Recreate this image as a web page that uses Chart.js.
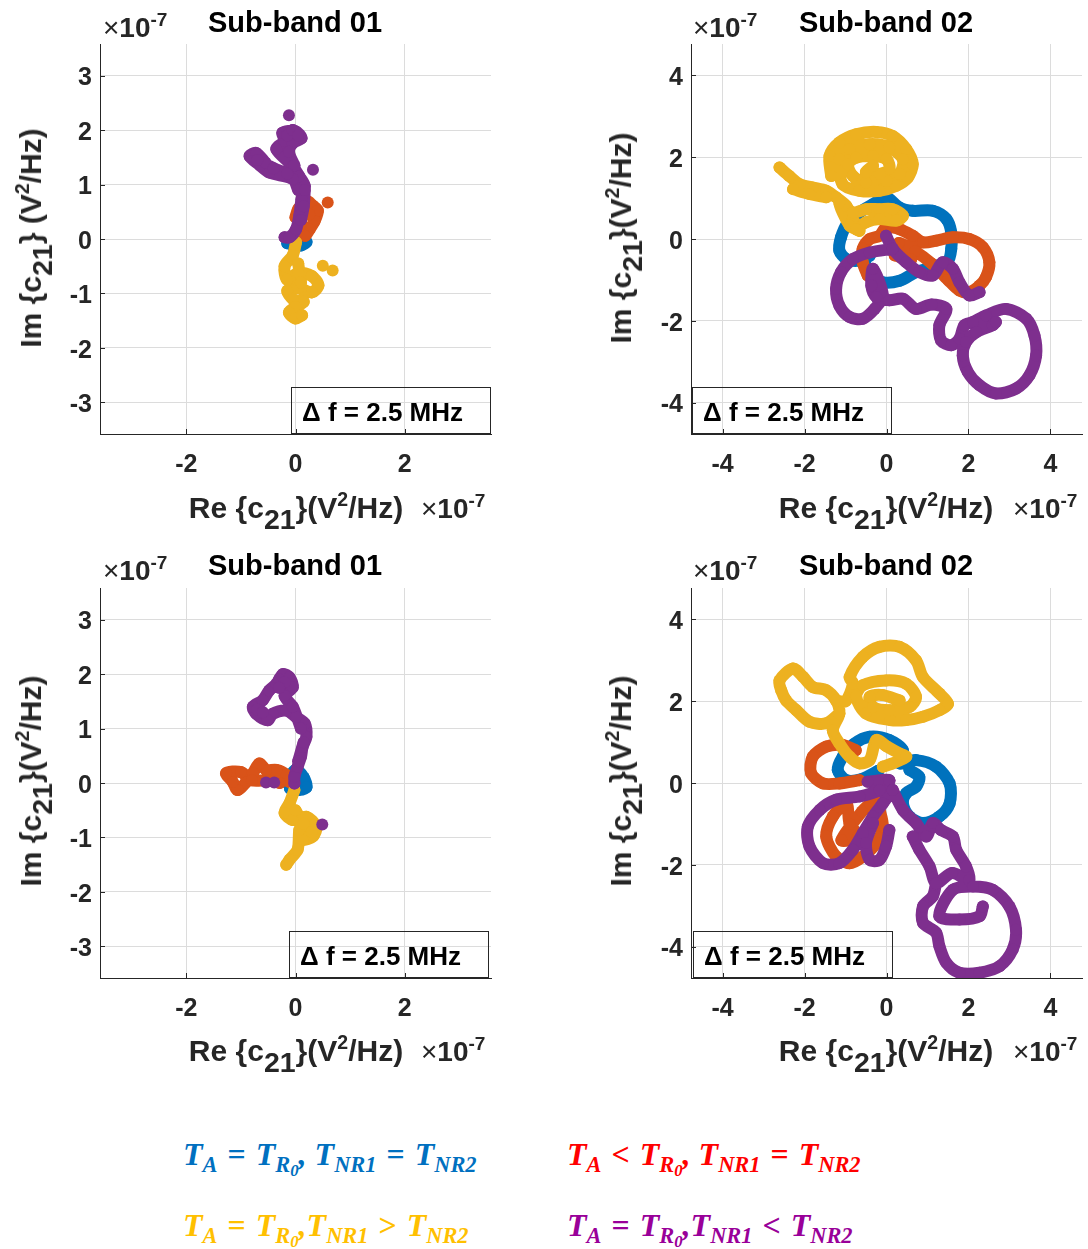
<!DOCTYPE html>
<html>
<head>
<meta charset="utf-8">
<script src="https://cdn.jsdelivr.net/npm/chart.js@4.4.1/dist/chart.umd.min.js"></script>
<style>
  body { margin: 0; background: #fff; }
  #page { position: relative; width: 1088px; height: 1249px; background: #fff; overflow: hidden;
          font-family: "Liberation Sans", Arial, sans-serif; color: #262626; }
  .panel { position: absolute; width: 544px; height: 544px; }
  .txt { position: absolute; white-space: nowrap; font-weight: bold; line-height: 1; }
  .txt sub, .txt sup { line-height: 0; }
  .title { font-size: 29px; color: #000; transform: translateX(-50%); }
  .expo { font-size: 28px; }
  .expo .x { font-weight: normal; }
  .expo sup { font-size: 0.68em; vertical-align: 0.6em; }
  .xlab { font-size: 30px; transform: translateX(-50%); }
  .ylab { font-size: 30px; transform: translate(-50%, -50%) rotate(-90deg); }
  .xlab sub, .ylab sub { font-size: 0.95em; vertical-align: -0.38em; }
  .xlab sup, .ylab sup { font-size: 0.65em; vertical-align: 0.62em; }
  .dbox { position: absolute; width: 200px; height: 47px; box-sizing: border-box; border: 1px solid #262626; }
  .dbox span { position: absolute; left: 10px; top: 11px; font-size: 26px; font-weight: bold; line-height: 1; white-space: nowrap; color: #000; }
  .leg { position: absolute; white-space: nowrap; font-family: "Liberation Serif", "DejaVu Serif", serif;
         font-weight: bold; font-style: italic; font-size: 32px; line-height: 1; }
  .leg .op { font-style: normal; margin: 0 10px; }
  .leg sub { font-size: 0.7em; vertical-align: -0.3em; line-height: 0; }
  .leg sub sub { font-size: 0.75em; vertical-align: -0.25em; }
</style>
</head>
<body>
<div id="page">
  <div class="panel" style="left:0;top:0"><canvas id="c1"></canvas></div>
  <div class="panel" style="left:544px;top:0"><canvas id="c2"></canvas></div>
  <div class="panel" style="left:0;top:544px"><canvas id="c3"></canvas></div>
  <div class="panel" style="left:544px;top:544px"><canvas id="c4"></canvas></div>

  <div class="txt title" style="left:295px;top:8px">Sub-band 01</div>
  <div class="txt title" style="left:886px;top:8px">Sub-band 02</div>
  <div class="txt title" style="left:295px;top:551px">Sub-band 01</div>
  <div class="txt title" style="left:886px;top:551px">Sub-band 02</div>

  <div class="txt expo" style="left:103px;top:14px"><span class="x">×</span>10<sup>-7</sup></div>
  <div class="txt expo" style="left:693px;top:14px"><span class="x">×</span>10<sup>-7</sup></div>
  <div class="txt expo" style="left:103px;top:557px"><span class="x">×</span>10<sup>-7</sup></div>
  <div class="txt expo" style="left:693px;top:557px"><span class="x">×</span>10<sup>-7</sup></div>

  <div class="txt expo" style="left:421px;top:495px"><span class="x">×</span>10<sup>-7</sup></div>
  <div class="txt expo" style="left:1013px;top:495px"><span class="x">×</span>10<sup>-7</sup></div>
  <div class="txt expo" style="left:421px;top:1038px"><span class="x">×</span>10<sup>-7</sup></div>
  <div class="txt expo" style="left:1013px;top:1038px"><span class="x">×</span>10<sup>-7</sup></div>

  <div class="txt xlab" style="left:296px;top:493px">Re {c<sub>21</sub>}(V<sup>2</sup>/Hz)</div>
  <div class="txt xlab" style="left:886px;top:493px">Re {c<sub>21</sub>}(V<sup>2</sup>/Hz)</div>
  <div class="txt xlab" style="left:296px;top:1036px">Re {c<sub>21</sub>}(V<sup>2</sup>/Hz)</div>
  <div class="txt xlab" style="left:886px;top:1036px">Re {c<sub>21</sub>}(V<sup>2</sup>/Hz)</div>

  <div class="txt ylab" style="left:31px;top:238px">Im {c<sub>21</sub>} (V<sup>2</sup>/Hz)</div>
  <div class="txt ylab" style="left:621px;top:238px">Im {c<sub>21</sub>}(V<sup>2</sup>/Hz)</div>
  <div class="txt ylab" style="left:31px;top:781px">Im {c<sub>21</sub>}(V<sup>2</sup>/Hz)</div>
  <div class="txt ylab" style="left:621px;top:781px">Im {c<sub>21</sub>}(V<sup>2</sup>/Hz)</div>

  <div class="dbox" style="left:291px;top:387px"><span>Δ f = 2.5 MHz</span></div>
  <div class="dbox" style="left:692px;top:387px"><span>Δ f = 2.5 MHz</span></div>
  <div class="dbox" style="left:289px;top:931px"><span>Δ f = 2.5 MHz</span></div>
  <div class="dbox" style="left:693px;top:931px"><span>Δ f = 2.5 MHz</span></div>

  <div class="leg" style="left:183px;top:1138px;color:#0070C0">T<sub>A</sub><span class="op">=</span>T<sub>R<sub>0</sub></sub>, T<sub>NR1</sub><span class="op">=</span>T<sub>NR2</sub></div>
  <div class="leg" style="left:567px;top:1138px;color:#FF0000">T<sub>A</sub><span class="op">&lt;</span>T<sub>R<sub>0</sub></sub>, T<sub>NR1</sub><span class="op">=</span>T<sub>NR2</sub></div>
  <div class="leg" style="left:183px;top:1209px;color:#FFC000">T<sub>A</sub><span class="op">=</span>T<sub>R<sub>0</sub></sub>,T<sub>NR1</sub><span class="op">&gt;</span>T<sub>NR2</sub></div>
  <div class="leg" style="left:567px;top:1209px;color:#990099">T<sub>A</sub><span class="op">=</span>T<sub>R<sub>0</sub></sub>,T<sub>NR1</sub><span class="op">&lt;</span>T<sub>NR2</sub></div>
</div>

<script>
// values in units of 1e-7 V^2/Hz, [Re, Im]; null breaks the trace
const sb1Ticks = [-3, -2, -1, 0, 1, 2, 3];
const sb1XTicks = [-2, 0, 2];
const sb2Ticks = [-4, -2, 0, 2, 4];
const sb1Lim = 3.58;
const sb2Lim = 4.77;

// top left: sub-band 01
const p1Blue = [[-0.15, -0.08], [0, 0], [0.2, -0.05], [0.1, -0.12], [-0.05, -0.12]];
const p1Orange = [[0, 0.4], [0.05, 0.55], [0.2, 0.7], [0.32, 0.61], [0.41, 0.52], [0.35, 0.33], [0.26, 0.18],
  [0.17, 0.06], [0.1, 0.25], [0.15, 0.45], [0.25, 0.45], null, [0.59, 0.67]];
const p1Yellow = [[0.01, -0.06], [-0.05, -0.3], [-0.2, -0.5], [-0.15, -0.75], [0.05, -0.62], [0.3, -0.68],
  [0.42, -0.85], [0.3, -0.98], [0.05, -0.9], [-0.15, -0.95], [-0.05, -1.1], [0.15, -1.15], [0, -1.25],
  [-0.12, -1.35], [0, -1.46], [0.12, -1.4], null, [0.05, -0.45], [0.1, -0.8],
  null, [0.5, -0.49], null, [0.68, -0.58]];
const p1Purple = [[-0.2, 0.03], [-0.11, 0.03], [0.01, 0.18], [0.07, 0.43], [0.11, 0.73], [0.17, 0.97],
  [0.07, 1.15], [-0.05, 1.34], [-0.35, 1.65], [-0.2, 1.8], [-0.24, 1.95], [0.0, 1.98], [0.11, 1.85],
  [-0.05, 1.76], [-0.12, 1.6], [-0.02, 1.35],
  null, [0.05, 0.9], [-0.05, 1.1], [-0.48, 1.22], [-0.65, 1.35], [-0.84, 1.52], [-0.72, 1.58], [-0.55, 1.4],
  null, [0.17, 0.9], [0.15, 0.6], [0.1, 0.35], null, [-0.15, 1.9], [-0.05, 2.0], [0.05, 1.9],
  null, [-0.7, 1.45], [-0.4, 1.3], [-0.15, 1.2],
  null, [-0.12, 2.27], null, [0.32, 1.27]];

// top right: sub-band 02
const p2Blue = [[-0.41, -0.41], [-0.66, -0.53], [-0.98, -0.49], [-1.15, -0.28], [-1.11, 0.04], [-0.94, 0.41],
  [-0.66, 0.65], [-0.33, 0.85], [-0.01, 1.02], [0.32, 0.77], [0.64, 0.69], [1.13, 0.69], [1.46, 0.49],
  [1.58, 0.16], [1.58, -0.24], [1.5, -0.53], [1.1, -0.7], [0.72, -0.81], [0.32, -1.02], [-0.09, -1.06],
  [-0.41, -0.89], [-0.5, -0.65]];
const p2Orange = [[-0.46, -0.89], [-0.58, -0.57], [-0.58, -0.24], [-0.41, 0], [-0.17, 0.08], [-0.01, 0.28],
  [0.32, 0.24], [0.64, 0.08], [0.89, -0.08], [1.21, -0.04], [1.62, 0.04], [2.02, 0], [2.35, -0.2], [2.51, -0.57],
  [2.43, -0.93], [2.27, -1.14], [2.02, -1.3], [1.78, -1.26], [1.5, -1.0], [1.1, -0.6], [0.7, -0.3], [0.3, -0.1],
  [0.6, -0.5], [0.2, -0.4]];
const p2Yellow = [[-1.35, 1.54], [-1.39, 2.03], [-1.15, 2.36], [-0.74, 2.56], [-0.25, 2.62], [0.15, 2.52],
  [0.48, 2.2], [0.64, 1.83], [0.52, 1.5], [0.24, 1.3], [-0.17, 1.18], [-0.66, 1.18], [-1.07, 1.34], [-1.15, 1.95],
  [-0.9, 2.2], [-0.41, 2.32], [0.07, 2.24], [0.4, 1.95], [0.32, 1.59], [0, 1.42], [-0.5, 1.38], [-0.82, 1.54],
  [-0.94, 1.83], [-0.74, 1.99], [-0.33, 2.03], [0, 1.95], [0.07, 1.71], [-0.17, 1.59], [-0.5, 1.63], [-0.33, 1.79],
  null, [-2.61, 1.75], [-2.37, 1.54], [-2.12, 1.34], [-1.8, 1.26], [-1.47, 1.18], [-1.23, 1.02], [-0.98, 0.81],
  [-0.82, 0.49], [-0.66, 0.2], [-0.74, 0.24], [-0.9, 0.33], [-1.15, 0.89], [-0.82, 0.65], [-0.5, 0.73],
  [-0.17, 0.73], [0.15, 0.73], [0.4, 0.57], [0.24, 0.45], [-0.17, 0.49], [-0.5, 0.41], [-0.74, 0.24],
  null, [-2.28, 1.22], [-1.88, 1.1], [-1.47, 1.02]];
const p2Purple = [[-0.01, 0.08], [0.15, -0.24], [0.48, -0.57], [0.8, -0.81], [1.13, -0.89], [1.37, -0.57],
  [1.62, -0.73], [1.78, -1.06], [2.02, -1.38], [2.27, -1.3],
  null, [0.15, -0.24], [-0.41, -0.33], [-0.82, -0.49], [-1.11, -0.81], [-1.23, -1.22], [-1.15, -1.63],
  [-0.9, -1.91], [-0.58, -1.95], [-0.29, -1.71], [-0.09, -1.38], [-0.33, -0.73], [-0.37, -1.14], [-0.25, -1.42],
  [0.07, -1.5], [0.4, -1.46], [0.72, -1.71], [1.1, -1.6], [1.46, -1.71], [1.29, -2.11], [1.33, -2.48],
  [1.58, -2.6], [1.78, -2.44], [1.9, -2.11], [2.11, -2.03], [2.43, -1.87], [2.92, -1.71], [3.41, -1.95],
  [3.61, -2.36], [3.65, -2.85], [3.49, -3.33], [3.16, -3.66], [2.67, -3.78], [2.27, -3.58], [1.98, -3.25],
  [1.86, -2.85], [1.94, -2.52], [2.19, -2.28], [2.59, -2.11], [2.67, -2.03]];

// bottom left: sub-band 01
const p3Blue = [[-0.17, 0.02], [0, 0.24], [0.15, 0.1], [0.2, -0.08], [0.05, -0.13], [-0.1, -0.1]];
const p3Orange = [[-0.11, 0.02], [-0.17, 0.15], [-0.35, 0.24], [-0.54, 0.24], [-0.66, 0.36], [-0.78, 0.18],
  [-0.91, 0.01], [-1.06, -0.13], [-1.15, 0.02], [-1.27, 0.18], [-1.0, 0.2], [-0.8, 0.05], [-0.5, 0.05], [-0.29, 0]];
const p3Yellow = [[-0.02, -0.13], [-0.11, -0.37], [-0.2, -0.55], [-0.05, -0.68], [0.2, -0.62], [0.38, -0.8],
  [0.32, -0.98], [0.13, -1.04], [0.07, -0.86], [0.04, -1.22], [-0.11, -1.41], [-0.17, -1.5],
  null, [0.0, -0.5], [0.15, -0.75], [0.3, -0.9]];
const p3Purple = [[-0.02, -0.01], [-0.02, 0.12], [0.04, 0.3], [0.1, 0.48], [0.13, 0.66], [0.2, 0.85], [0.17, 1.09],
  [0.01, 1.21], [-0.17, 1.33], [-0.42, 1.27], [-0.51, 1.15], [-0.72, 1.27], [-0.78, 1.4], [-0.6, 1.52],
  [-0.48, 1.7], [-0.35, 1.82], [-0.23, 2.0], [-0.11, 1.94], [-0.05, 1.76], [-0.2, 1.6], [-0.05, 1.4],
  [0.1, 1.0], null, [-0.3, 1.9], [-0.2, 1.85], [-0.3, 1.75], null, [-0.7, 1.35], [-0.6, 1.3],
  null, [0.15, 0.75], [0.05, 0.4],
  null, [-0.54, 0.01], null, [-0.39, 0.01], null, [0.49, -0.76]];

// bottom right: sub-band 02
const p4Blue = [[-0.2, 0.3], [-0.6, 0.1], [-0.98, 0.07], [-1.19, 0.32], [-1.07, 0.64], [-0.8, 0.95], [-0.41, 1.13],
  [0.07, 1.05], [0.4, 0.8], [0.32, 0.48], [0.72, 0.56], [1.21, 0.4], [1.54, -0.01], [1.54, -0.5], [1.29, -0.82],
  [0.89, -0.98], [0.56, -0.82], [0.4, -0.5], [0.48, -0.25], [0.72, -0.09], [0.8, 0.15], [0.56, 0.32]];
const p4Orange = [[-0.66, 0.07], [-1.15, -0.01], [-1.55, -0.01], [-1.84, 0.24], [-1.8, 0.64], [-1.47, 0.89],
  [-1.07, 0.93], [-0.75, 0.8], null, [-0.33, -0.25], [-0.17, -0.66], [-0.09, -1.07], [-0.25, -1.47],
  [-0.58, -1.8], [-0.9, -1.96], [-1.23, -1.8], [-1.47, -1.31], [-1.31, -0.82], [-0.98, -0.5], [-0.9, -1.0],
  [-0.7, -1.3], [-1.1, -1.4], [-0.6, -0.7], [-0.4, -0.5]];
const p4Yellow = [[-1.15, 1.7], [-1.47, 1.46], [-1.88, 1.5], [-2.2, 1.78], [-2.45, 2.02], [-2.57, 2.27],
  [-2.61, 2.51], [-2.28, 2.8], [-2.04, 2.6], [-1.8, 2.35], [-1.47, 2.27], [-1.23, 2.02], [-1.15, 1.7],
  [-1.31, 1.29], [-1.15, 0.97], [-0.9, 0.64], [-0.66, 0.48], [-0.41, 0.56], [-0.25, 1.05], [0, 0.9],
  [0.32, 0.72], [0.48, 0.64], [0.15, 0.48], [-0.09, 0.4],
  null, [-1.23, 2.02], [-1.0, 2.0], [-0.82, 2.43], [-0.9, 2.59], [-0.58, 3.08], [-0.17, 3.33], [0.32, 3.33],
  [0.72, 3.0], [0.89, 2.59], [1.29, 2.19], [1.5, 1.94], [1.29, 1.78], [0.89, 1.62], [0.48, 1.54], [0.09, 1.54],
  [-0.5, 1.7], [-0.74, 2.11], [-0.58, 2.39], [-0.01, 2.51], [0.48, 2.43], [0.72, 2.11], [0.56, 1.86],
  [0.07, 1.78], [-0.33, 1.86], [-0.41, 2.11], [-0.09, 2.15], [0.32, 2.02]];
const p4Purple = [[-0.46, 0.03], [0.07, 0.07], [-0.17, -0.17], [-0.66, -0.33], [-1.23, -0.41], [-1.63, -0.66],
  [-1.92, -1.07], [-1.88, -1.55], [-1.55, -1.96], [-1.15, -1.96], [-0.82, -1.63], [-0.58, -1.23], [-0.33, -0.82],
  [-0.09, -0.5], [0.15, -0.17],
  null, [-0.33, -0.98], [-0.5, -1.47], [-0.41, -1.88], [-0.17, -1.88], [-0.01, -1.55], [0.07, -1.15],
  null, [0.15, -0.17], [0.4, -0.66], [0.72, -0.98], [0.97, -1.31], [1.13, -0.98], [1.33, -1.15], [1.62, -1.31],
  [1.7, -1.63], [1.94, -2.04], [2.02, -2.37], [1.6, -2.2], [1.21, -2.45], [1.05, -2.04], [0.8, -1.63],
  [0.64, -1.31],
  null, [1.21, -2.45], [1.13, -2.77], [0.89, -3.02], [0.89, -3.42], [1.21, -3.66], [1.29, -3.99], [1.46, -4.4],
  [1.78, -4.64], [2.27, -4.64], [2.76, -4.48], [3.08, -4.07], [3.16, -3.59], [3.0, -3.02], [2.59, -2.61],
  [2.11, -2.53], [1.62, -2.61], [1.29, -3.26], [1.78, -3.34], [2.27, -3.26], [2.35, -3.02]];

const BLUE = '#0072BD', ORANGE = '#D95319', YELLOW = '#EDB120', PURPLE = '#7E2F8E';
const AXIS = '#262626';
const tickFont = { family: '"Liberation Sans", Arial, sans-serif', size: 25, weight: 'bold' };

function toPts(arr) {
  return arr.map(p => p ? { x: p[0], y: p[1] } : { x: null, y: null });
}

function trace(arr, color, order) {
  return {
    data: toPts(arr),
    showLine: true,
    borderColor: color,
    backgroundColor: color,
    borderWidth: 12,
    borderCapStyle: 'round',
    borderJoinStyle: 'round',
    tension: 0.3,
    spanGaps: false,
    pointRadius: 6,
    pointHoverRadius: 6,
    pointBorderWidth: 0,
    order: order
  };
}

// MATLAB style inward tick marks
const tickMarks = {
  id: 'tickMarks',
  beforeDatasetsDraw(chart) {
    const { ctx, chartArea: a, scales } = chart;
    ctx.save();
    ctx.strokeStyle = AXIS;
    ctx.lineWidth = 1;
    ctx.beginPath();
    scales.x.ticks.forEach(t => {
      const p = Math.round(scales.x.getPixelForValue(t.value)) + 0.5;
      ctx.moveTo(p, a.bottom);
      ctx.lineTo(p, a.bottom - 5);
    });
    scales.y.ticks.forEach(t => {
      const p = Math.round(scales.y.getPixelForValue(t.value)) + 0.5;
      ctx.moveTo(a.left, p);
      ctx.lineTo(a.left + 5, p);
    });
    ctx.stroke();
    ctx.restore();
  }
};

function axis(lim, ticks, isX) {
  return {
    type: 'linear',
    min: -lim,
    max: lim,
    afterBuildTicks: s => { s.ticks = ticks.map(v => ({ value: v })); },
    afterFit: s => { if (isX) s.height = 60; else s.width = 60; },
    grid: { color: '#dcdcdc', drawTicks: false },
    border: { color: AXIS, width: 1 },
    ticks: { font: tickFont, color: AXIS, padding: isX ? 16 : 8, labelOffset: isX ? 0 : 3,
             callback: v => String(v) }
  };
}

function panel(id, series, lim, xTicks, yTicks, padLeft, padRight) {
  new Chart(document.getElementById(id), {
    type: 'scatter',
    data: {
      datasets: [
        trace(series[0], BLUE, 4),
        trace(series[1], ORANGE, 3),
        trace(series[2], YELLOW, 2),
        trace(series[3], PURPLE, 1)
      ]
    },
    options: {
      responsive: true,
      maintainAspectRatio: false,
      animation: false,
      layout: { padding: { top: 44, left: padLeft, right: padRight, bottom: 50 } },
      plugins: { legend: { display: false }, tooltip: { enabled: false } },
      scales: {
        x: axis(lim, xTicks, true),
        y: axis(lim, yTicks, false)
      }
    },
    plugins: [tickMarks]
  });
}

panel('c1', [p1Blue, p1Orange, p1Yellow, p1Purple], sb1Lim, sb1XTicks, sb1Ticks, 40, 53);
panel('c2', [p2Blue, p2Orange, p2Yellow, p2Purple], sb2Lim, sb2Ticks, sb2Ticks, 87, 6);
panel('c3', [p3Blue, p3Orange, p3Yellow, p3Purple], sb1Lim, sb1XTicks, sb1Ticks, 40, 53);
panel('c4', [p4Blue, p4Orange, p4Yellow, p4Purple], sb2Lim, sb2Ticks, sb2Ticks, 87, 6);
</script>
</body>
</html>
